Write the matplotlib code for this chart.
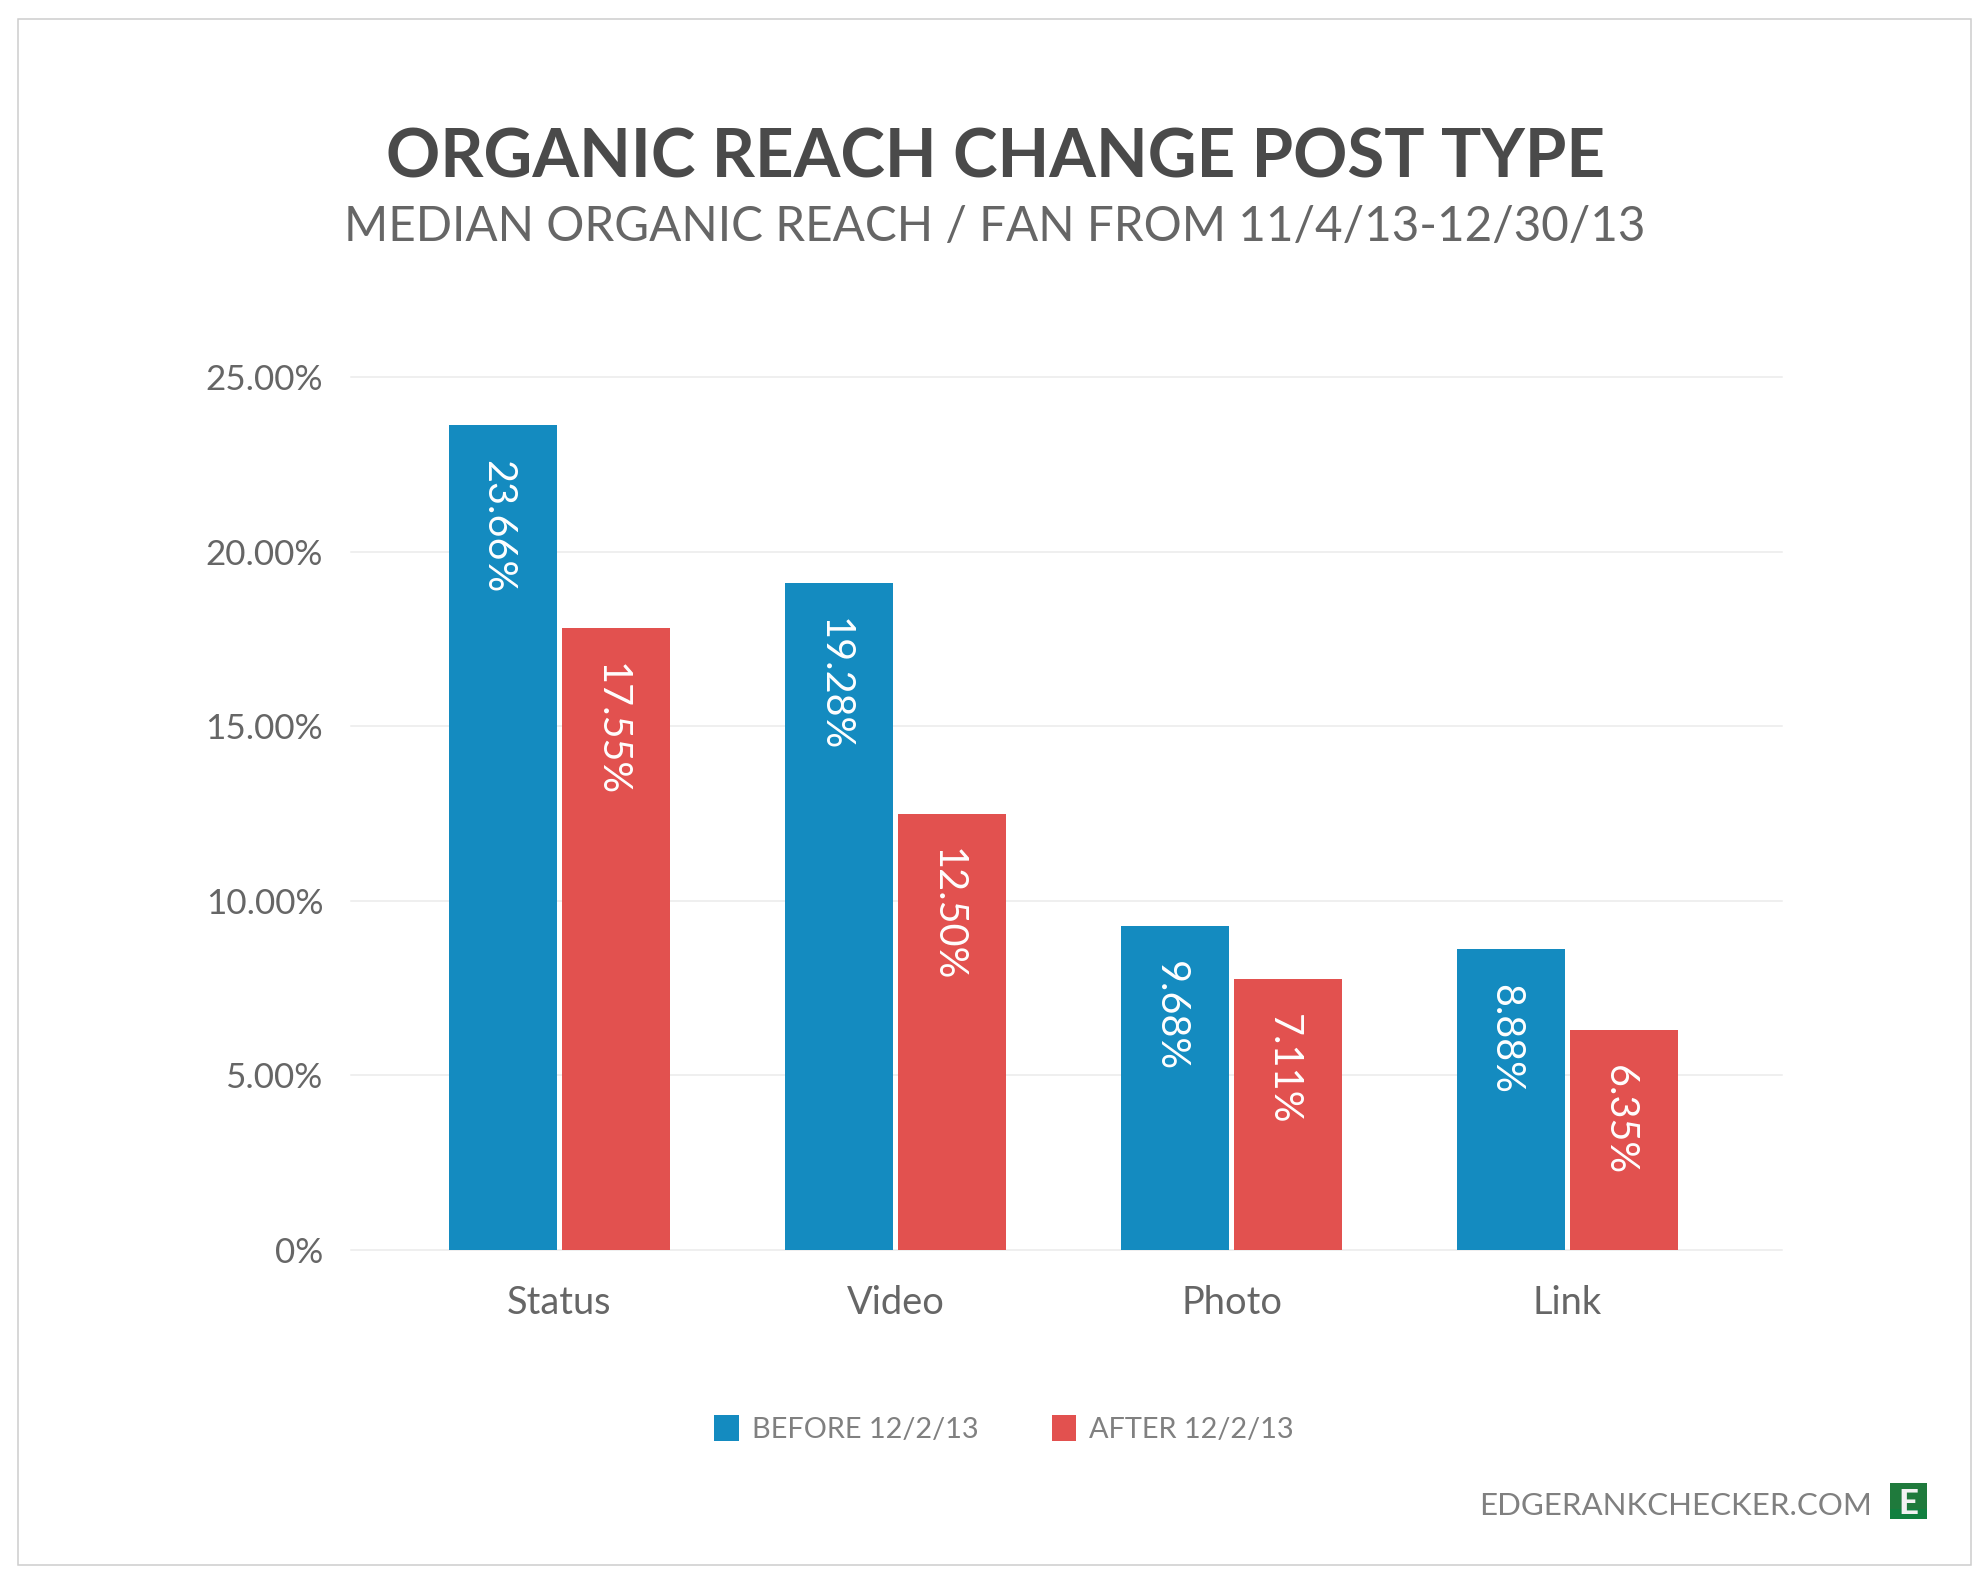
import matplotlib.pyplot as plt
from matplotlib.patches import Rectangle

plt.rcParams['font.family'] = ['Lato', 'DejaVu Sans']

W, H = 1988, 1585

categories = ['Status', 'Video', 'Photo', 'Link']
before_values = [23.63, 19.10, 9.28, 8.63]
after_values = [17.81, 12.50, 7.76, 6.30]
before_labels = ['23.66%', '19.28%', '9.68%', '8.88%']
after_labels = ['17.55%', '12.50%', '7.11%', '6.35%']
y_ticks = [0, 5, 10, 15, 20, 25]
y_tick_labels = ['0%', '5.00%', '10.00%', '15.00%', '20.00%', '25.00%']

BLUE = '#148bc0'
RED = '#e2514f'
PX = 0.72  # pixels to points at dpi 100


def fx(x):
    return x / W


def fy(y):
    return 1 - y / H


fig = plt.figure(figsize=(W / 100, H / 100), dpi=100, facecolor='white')

# frame around the chart
fig.add_artist(Rectangle((fx(18), fy(1565)), fx(1971 - 18), (1565 - 19) / H,
                         transform=fig.transFigure, fill=False,
                         edgecolor='#cccccc', linewidth=1.5 * PX))

ax = fig.add_axes([fx(351), fy(1250), fx(1782 - 351), (1250 - 377) / H])
ax.set_xlim(-0.62, 3.638)
ax.set_ylim(0, 25)

for s in ax.spines.values():
    s.set_visible(False)
ax.set_yticks(y_ticks)
ax.set_yticklabels(y_tick_labels)
ax.grid(axis='y', color='#ebebeb', linewidth=1.5 * PX, clip_on=False)
ax.set_axisbelow(True)
ax.tick_params(axis='y', length=0, pad=20, labelsize=25.2, labelcolor='#666666')
ax.tick_params(axis='x', length=0, pad=25, labelsize=27.4, labelcolor='#666666')

positions = range(len(categories))
bar_w = 0.321
off = 0.168
bars1 = ax.bar([p - off for p in positions], before_values, bar_w, color=BLUE, label='BEFORE 12/2/13')
bars2 = ax.bar([p + off for p in positions], after_values, bar_w, color=RED, label='AFTER 12/2/13')
ax.set_xticks(list(positions))
ax.set_xticklabels(categories)

# value labels run down inside the bars
for bars, labels in ((bars1, before_labels), (bars2, after_labels)):
    for rect, label in zip(bars, labels):
        ax.annotate(label, (rect.get_x() + rect.get_width() / 2, rect.get_height()),
                    xytext=(-5 * PX, -35 * PX), textcoords='offset points',
                    rotation=-90, ha='center', va='top', color='white', fontsize=28.5)

fig.text(fx(995), fy(178), 'ORGANIC REACH CHANGE POST TYPE', ha='center', va='baseline',
         fontsize=48.4, fontweight='bold', color='#4a4a4a')
fig.text(fx(995), fy(241), 'MEDIAN ORGANIC REACH / FAN FROM 11/4/13-12/30/13', ha='center', va='baseline',
         fontsize=34.3, color='#666666')

fig.legend(handles=[bars1, bars2], loc='center', bbox_to_anchor=(fx(1004), fy(1429)),
           ncol=2, frameon=False, fontsize=20.8, labelcolor='#808080',
           handlelength=0.85, handleheight=1.0, handletextpad=0.45, columnspacing=2.55)

fig.text(fx(1872), fy(1515), 'EDGERANKCHECKER.COM', ha='right', va='baseline',
         fontsize=22.5, color='#808080')

# small E badge
fig.add_artist(Rectangle((fx(1890), fy(1519)), fx(37), 36 / H, transform=fig.transFigure,
                         facecolor='#1f7a3c', edgecolor='none'))
fig.add_artist(Rectangle((fx(1890), fy(1519)), fx(37), 10 / H, transform=fig.transFigure,
                         facecolor='#118040', edgecolor='none'))
fig.text(fx(1908), fy(1514), 'E', ha='center', va='baseline', fontsize=25,
         fontweight='black', color='#f2f2f2')

fig.savefig('out.png', dpi=100)
plt.close(fig)
